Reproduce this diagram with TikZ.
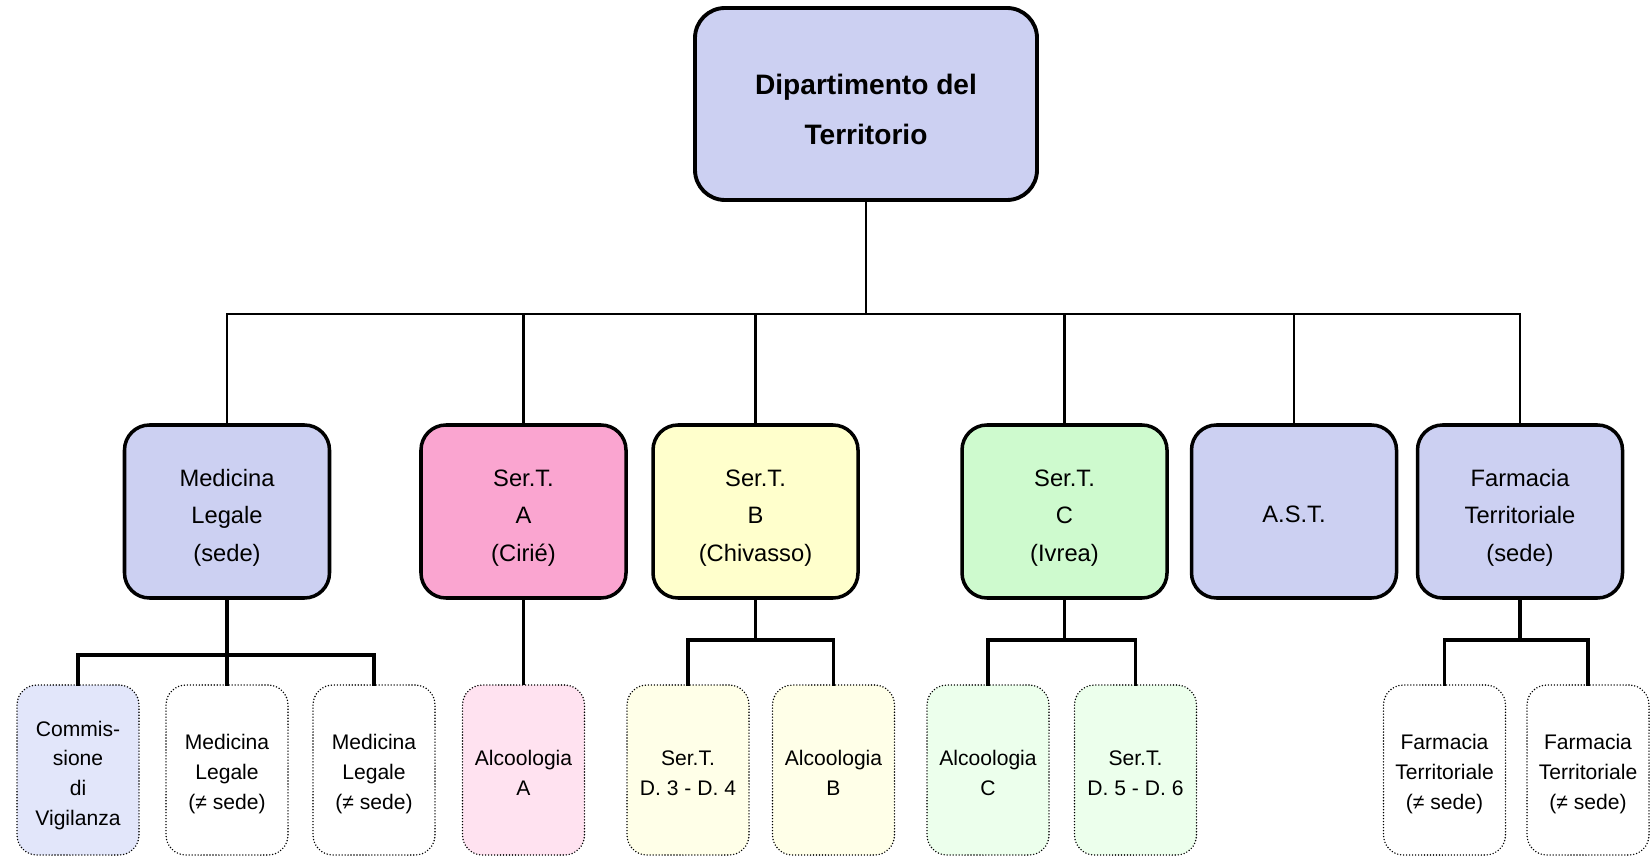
\documentclass[tikz,border=0pt]{standalone}
\usepackage{fontspec}
\setmainfont{Liberation Sans}
\usepackage{tikz}
\definecolor{texblue}{RGB}{204,208,242}
\definecolor{serapink}{RGB}{250,165,208}
\definecolor{serayellow}{RGB}{255,255,204}
\definecolor{seragreen}{RGB}{206,250,206}
\definecolor{lightlav}{RGB}{226,230,250}
\definecolor{lightpink}{RGB}{255,226,240}
\definecolor{lightyellow}{RGB}{255,255,232}
\definecolor{lightgreen}{RGB}{236,255,236}
\tikzset{dept/.style={draw, line width=2.2pt, rounded corners=0.6cm, fill=texblue,
    minimum width=6.84cm, minimum height=3.84cm, align=center, inner sep=0pt,
    font=\fontsize{16}{28.5}\selectfont\bfseries, text height=46.2pt, text depth=0pt},
  unit/.style={draw, line width=2pt, rounded corners=0.5cm,
    minimum width=4.1cm, minimum height=3.46cm, align=center, inner sep=0pt,
    font=\fontsize{13.5}{21.3}\selectfont, text height=56.7pt, text depth=0pt},
  subunit/.style={draw, line width=0.9pt, line cap=round, dash pattern=on 0pt off 1.7pt,
    rounded corners=0.4cm, minimum width=2.44cm, minimum height=3.4cm,
    align=center, inner sep=0pt, font=\fontsize{12}{17}\selectfont, text depth=0pt},
  twolines/.style={text height=29.4pt},
  threelines/.style={text height=45pt},
  fourlines/.style={text height=63.3pt},
  busline/.style={line width=1.3pt},
  subline/.style={line width=1.8pt}}

\begin{document}
\begin{tikzpicture}[line cap=rect]

    \useasboundingbox (0,0) rectangle (33,17.14);

    \coordinate (bus) at (0,10.86);
    \coordinate (mlbus) at (0,4.04);
    \coordinate (subbus) at (0,4.34);

	% top
	\node [dept] (dip) at (17.32,15.06) {Dipartimento del\\Territorio};

	% first level
	\node [unit, fill=texblue] (ml) at (4.54,6.91) {Medicina\\Legale\\(sede)};
	\node [unit, fill=serapink] (sa) at (10.47,6.91) {Ser.T.\\A\\(Cirié)};
	\node [unit, fill=serayellow] (sb) at (15.11,6.91) {Ser.T.\\B\\(Chivasso)};
	\node [unit, fill=seragreen] (sc) at (21.29,6.91) {Ser.T.\\C\\(Ivrea)};
	\node [unit, fill=texblue, text height=12.1pt] (ast) at (25.88,6.91) {A.S.T.};
	\node [unit, fill=texblue] (ft) at (30.40,6.91) {Farmacia\\Territoriale\\(sede)};

	% second level
	\node [subunit, fourlines, fill=lightlav] (cv) at (1.56,1.74) {Commis-\\sione\\di\\Vigilanza};
	\node [subunit, threelines] (ml2) at (4.54,1.74) {Medicina\\Legale\\(≠ sede)};
	\node [subunit, threelines] (ml3) at (7.48,1.74) {Medicina\\Legale\\(≠ sede)};
	\node [subunit, twolines, fill=lightpink] (aa) at (10.47,1.74) {Alcoologia\\A};
	\node [subunit, twolines, fill=lightyellow] (sd34) at (13.76,1.74) {Ser.T.\\D. 3 - D. 4};
	\node [subunit, twolines, fill=lightyellow] (ab) at (16.67,1.74) {Alcoologia\\B};
	\node [subunit, twolines, fill=lightgreen] (ac) at (19.76,1.74) {Alcoologia\\C};
	\node [subunit, twolines, fill=lightgreen] (sd56) at (22.71,1.74) {Ser.T.\\D. 5 - D. 6};
	\node [subunit, threelines] (ft1) at (28.89,1.74) {Farmacia\\Territoriale\\(≠ sede)};
	\node [subunit, threelines] (ft2) at (31.76,1.74) {Farmacia\\Territoriale\\(≠ sede)};

	% connectors, first level
	\draw [busline] (dip.south) -- (dip.south |- bus);
	\draw [busline] (ml.north |- bus) -- (ft.north |- bus);
	\draw [busline] (ml.north) -- (ml.north |- bus);
	\draw [busline] (sa.north) -- (sa.north |- bus);
	\draw [busline] (sb.north) -- (sb.north |- bus);
	\draw [busline] (sc.north) -- (sc.north |- bus);
	\draw [busline] (ast.north) -- (ast.north |- bus);
	\draw [busline] (ft.north) -- (ft.north |- bus);

	% connectors, second level
	\draw [subline] (ml.south) -- (ml2.north);
	\draw [subline] (cv.north) -- (cv.north |- mlbus) -- (ml3.north |- mlbus) -- (ml3.north);
	\draw [busline] (sa.south) -- (aa.north);
	\draw [subline] (sb.south) -- (sb.south |- subbus);
	\draw [subline] (sd34.north) -- (sd34.north |- subbus) -- (ab.north |- subbus) -- (ab.north);
	\draw [subline] (sc.south) -- (sc.south |- subbus);
	\draw [subline] (ac.north) -- (ac.north |- subbus) -- (sd56.north |- subbus) -- (sd56.north);
	\draw [subline] (ft.south) -- (ft.south |- subbus);
	\draw [subline] (ft1.north) -- (ft1.north |- subbus) -- (ft2.north |- subbus) -- (ft2.north);

\end{tikzpicture}
\end{document}
